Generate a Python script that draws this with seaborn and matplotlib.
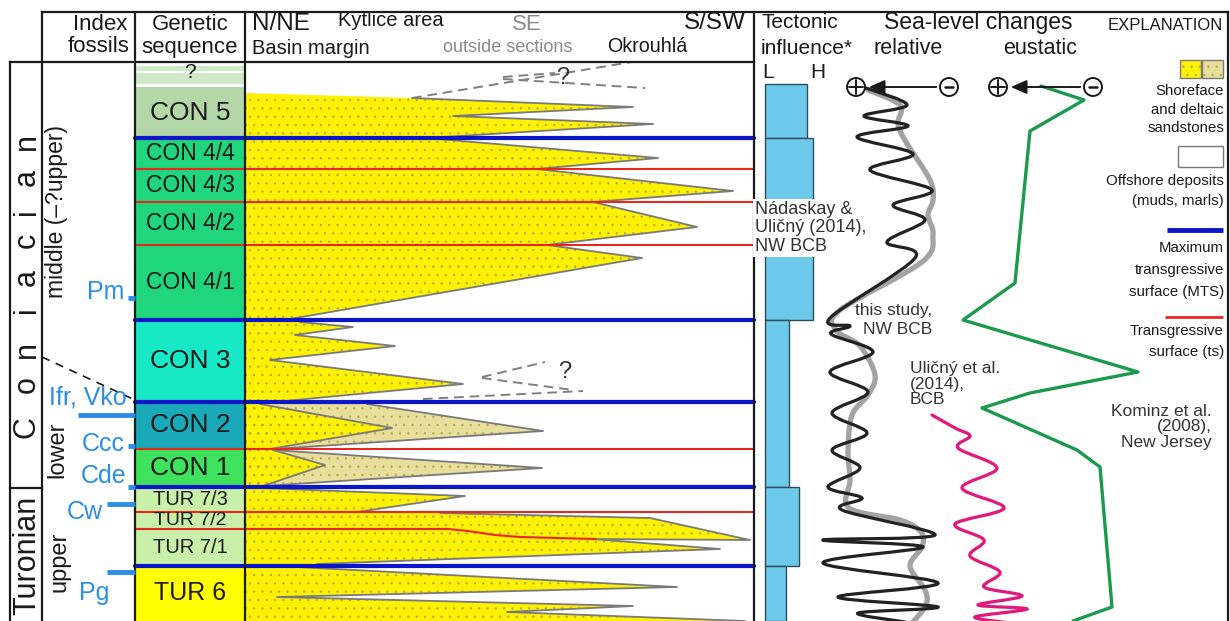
import numpy as np
import pandas as pd
import matplotlib
matplotlib.use("Agg")
import matplotlib.pyplot as plt
from matplotlib.path import Path
from matplotlib.patches import PathPatch, Polygon, Rectangle, Circle
import seaborn as sns

# ------------------------------------------------------------------
# Stratigraphic framework (depth axis runs downwards)
# ------------------------------------------------------------------
seq_names = ["?", "CON 5", "CON 4/4", "CON 4/3", "CON 4/2", "CON 4/1", "CON 3",
             "CON 2", "CON 1", "TUR 7/3", "TUR 7/2", "TUR 7/1", "TUR 6"]
seq_tops = [62, 87, 138, 169, 202, 245, 320, 402, 449, 487, 512, 529, 566]
seq_bases = [87, 138, 169, 202, 245, 320, 402, 449, 487, 512, 529, 566, 621]
seq_colors = ["#cfe8c8", "#b4d7a8", "#1fd67c", "#1fd67c", "#1fd67c", "#1fd67c",
              "#17e8c6", "#1aa9b9", "#3fe25c", "#c9f0a8", "#c9f0a8", "#c9f0a8",
              "#ffff00"]
seq_label_pt = [15, 19, 16.5, 16.5, 16.5, 16.5, 19, 19, 19, 14.5, 14, 14.5, 18]

mts_depths = [138, 320, 402, 487, 566]          # maximum transgressive surfaces
ts_depths = [169, 202, 245, 449, 512]           # transgressive surfaces
ts_tur72_x = [135, 448, 468, 495, 520, 595]     # TUR 7/2 transgressive surface
ts_tur72_y = [529, 529, 531, 535, 537, 539]

# Shoreface / deltaic sandstone bodies (distance basinward, depth)
sand_con4_5_x = [245, 412, 633, 453, 653, 427, 658, 537, 733, 593, 697, 547, 642, 290, 245]
sand_con4_5_y = [93, 98, 107, 116, 124, 138, 158, 169, 191, 202, 227, 245, 258, 319, 320]
sand_con3_x = [245, 300, 353, 295, 395, 270, 463, 285, 245]
sand_con3_y = [322, 322, 327, 335, 346, 360, 384, 401, 401]
sand_con2_x = [245, 260, 392, 270, 245]
sand_con2_y = [404, 404, 428, 449, 449]
delta_con2_x = [245, 367, 543, 275, 245]
delta_con2_y = [404, 404, 431, 449, 449]
sand_con1_x = [245, 273, 325, 263, 245]
sand_con1_y = [450, 450, 465, 486, 486]
delta_con1_x = [245, 273, 542, 263, 245]
delta_con1_y = [450, 450, 468, 486, 486]
sand_tur73_x = [245, 262, 465, 357, 245]
sand_tur73_y = [488, 488, 496, 512, 512]
sand_tur71_x = [245, 440, 650, 750, 593, 720, 317, 245]
sand_tur71_y = [513, 513, 518, 540, 539, 549, 564, 565]
sand_tur6_x = [245, 297, 677, 277, 633, 507, 745, 245]
sand_tur6_y = [567, 567, 587, 597, 606, 612, 621, 621]

# Uncertain correlations (dashed)
dash_con5 = [([412, 632], [98, 62]), ([503, 555], [77, 73]), ([503, 645], [79, 88])]
dash_con3 = [([423, 583], [399, 391]), ([482, 545], [377, 362]), ([482, 573], [378, 390])]

# Index fossils: label, label position, marker extent
fossil_labels = ["Pm", "Ifr, Vko", "Ccc", "Cde", "Cw", "Pg"]
fossil_label_x = [124, 127, 125, 126, 103, 109]
fossil_label_y = [292, 397, 444, 476, 512, 593]
fossil_bar_x0 = [128, 78, 128, 128, 107, 107]
fossil_bar_y = [298, 415, 446, 487, 504, 572]

# Tectonic influence (L .. H)
tect_top = [84, 138, 320, 487, 566]
tect_base = [138, 320, 487, 566, 621]
tect_level = [42, 48, 24, 34, 21]

# Relative sea level, this study (turning points)
rsl_x = [866, 907, 864, 908, 857, 913, 870, 932, 893, 925, 887, 915, 830, 850, 831,
         873, 830, 868, 832, 867, 832, 860, 828, 862, 842, 935, 823, 923, 823, 938,
         838, 938, 858, 905]
rsl_y = [88, 105, 116, 126, 137, 154, 170, 190, 205, 220, 242, 258, 318, 326, 334,
         352, 372, 392, 413, 433, 450, 468, 487, 498, 510, 535, 540, 547, 563, 583,
         597, 607, 613, 622]
# Relative sea level, Nadaskay & Ulicny (2014)
nu_x = [868, 900, 898, 906, 930, 933, 928, 933, 922, 840, 836, 860, 875, 868, 852,
        848, 850, 849, 900, 921, 922, 910, 925, 926, 913]
nu_y = [90, 105, 124, 142, 180, 200, 215, 235, 262, 310, 330, 346, 375, 395, 415,
        450, 480, 508, 520, 532, 547, 566, 590, 605, 622]
# Relative sea level, Ulicny et al. (2014)
ul_x = [932, 955, 970, 958, 997, 962, 1004, 955, 984, 970, 1000, 984, 1022, 978, 1027, 975, 1010]
ul_y = [415, 428, 436, 448, 468, 488, 508, 524, 540, 556, 572, 587, 596, 605, 609, 617, 623]
# Eustatic curve, Kominz et al. (2008)
eus_x = [1041, 1084, 1030, 1015, 963, 1138, 1030, 982, 1077, 1100, 1112, 1073]
eus_y = [86, 100, 131, 283, 320, 372, 393, 408, 450, 467, 607, 621]

# ------------------------------------------------------------------
sns.set_theme(style="white")
plt.rcParams["font.family"] = ["Liberation Sans", "DejaVu Sans"]
plt.rcParams["hatch.linewidth"] = 0.45

fig = plt.figure(figsize=(12.3, 6.21), dpi=100)
ax = fig.add_axes([0, 0, 1, 1])
ax.set_xlim(0, 1230)
ax.set_ylim(621, 0)
ax.axis("off")

DARK = "#1a1a1a"
YELLOW = "#fff200"
KHAKI = "#e8df9c"
OUTLINE = "#7a7a7a"
BLUE = "#0a16c8"
RED = "#e8281e"
FOSSIL = "#2a8ee8"
DOTS = "#b3a550"


def sand_body(xs, ys, color):
    pts = np.column_stack([xs, ys])
    ax.add_patch(Polygon(pts, closed=True, facecolor=color, edgecolor="none", zorder=2))
    ax.add_patch(Polygon(pts, closed=True, facecolor="none", edgecolor=DOTS,
                         hatch="..", linewidth=0, zorder=2.1))
    ax.plot(xs[1:-1], ys[1:-1], color=OUTLINE, lw=1.3, zorder=2.2)


def smooth_path(xs, ys):
    P = np.column_stack([xs, ys]).astype(float)
    n = len(P)
    verts, codes = [P[0]], [Path.MOVETO]
    for i in range(n - 1):
        p0 = P[i - 1] if i > 0 else P[i]
        p1, p2 = P[i], P[i + 1]
        p3 = P[i + 2] if i + 2 < n else P[i + 1]
        verts += [p1 + (p2 - p0) / 6.0, p2 - (p3 - p1) / 6.0, p2]
        codes += [Path.CURVE4] * 3
    return Path(verts, codes)


# Genetic sequence column
for name, top, base, col, pt in zip(seq_names, seq_tops, seq_bases, seq_colors, seq_label_pt):
    ax.add_patch(Rectangle((135, top), 110, base - top, facecolor=col, edgecolor="none", zorder=1))
    ty = (top + base) / 2 + (0 if name != "?" else -2)
    ax.text(190, ty, name, ha="center", va="center", fontsize=pt, color=DARK, zorder=5)
for y0, y1 in [(62, 66), (71, 73), (84, 87)]:
    ax.add_patch(Rectangle((135, y0), 110, y1 - y0, facecolor="white", edgecolor="none", zorder=1.5))

# Sandstone bodies
sand_body(sand_con4_5_x, sand_con4_5_y, YELLOW)
sand_body(sand_con3_x, sand_con3_y, YELLOW)
sand_body(delta_con2_x, delta_con2_y, KHAKI)
sand_body(sand_con2_x, sand_con2_y, YELLOW)
sand_body(delta_con1_x, delta_con1_y, KHAKI)
sand_body(sand_con1_x, sand_con1_y, YELLOW)
sand_body(sand_tur73_x, sand_tur73_y, YELLOW)
sand_body(sand_tur71_x, sand_tur71_y, YELLOW)
sand_body(sand_tur6_x, sand_tur6_y, YELLOW)

for xs, ys in dash_con5 + dash_con3:
    ax.plot(xs, ys, color="#808080", lw=1.4, ls=(0, (5, 3)), zorder=2.5)
ax.text(563, 78, "?", ha="center", va="center", fontsize=17, color="#333333", zorder=3)
ax.text(565, 372, "?", ha="center", va="center", fontsize=17, color="#333333", zorder=3)

# Surfaces
for d in ts_depths:
    ax.plot([135, 754], [d, d], color=RED, lw=1.5, zorder=3)
ax.plot(ts_tur72_x, ts_tur72_y, color=RED, lw=1.5, zorder=3)
for d in mts_depths:
    ax.plot([135, 754], [d, d], color=BLUE, lw=3.0, zorder=3.1)

# Frame
frame = dict(color=DARK, lw=1.6, zorder=6, solid_capstyle="projecting")
ax.plot([42, 1228], [12, 12], **frame)
ax.plot([10, 754], [62, 62], **frame)
ax.plot([10, 42], [488, 488], **frame)
for x, y0 in [(10, 62), (42, 12), (135, 12), (245, 12), (754, 12), (1228, 12)]:
    ax.plot([x, x], [y0, 621], **frame)
ax.plot([42, 135], [357, 400], color=DARK, lw=1.2, ls=(0, (5, 4)), zorder=4)

# Header texts
hdr = dict(fontsize=16, color=DARK, va="center", zorder=7)
ax.text(100, 24, "Index", ha="center", **hdr)
ax.text(99, 47, "fossils", ha="center", **hdr)
ax.text(190, 24, "Genetic", ha="center", **hdr)
ax.text(190, 48, "sequence", ha="center", **hdr)
ax.text(252, 24, "N/NE", ha="left", fontsize=17.5, color=DARK, va="center")
ax.text(338, 21, "Kytlice area", ha="left", fontsize=14.5, color=DARK, va="center")
ax.text(252, 48, "Basin margin", ha="left", fontsize=14.5, color=DARK, va="center")
ax.text(527, 24, "SE", ha="center", fontsize=16, color="#8a8a8a", va="center")
ax.text(508, 48, "outside sections", ha="center", fontsize=13, color="#8a8a8a", va="center")
ax.text(647, 47, "Okrouhlá", ha="center", fontsize=14.2, color=DARK, va="center")
ax.text(746, 23, "S/SW", ha="right", fontsize=17.5, color=DARK, va="center")

# Stage and substage names
for ch, y in zip("Coniacian", [427, 385, 350, 310, 277, 240, 212, 178, 142]):
    ax.text(27, y, ch, rotation=90, ha="center", va="center", fontsize=22, color=DARK)
ax.text(27, 555, "Turonian", rotation=90, ha="center", va="center", fontsize=22, color=DARK)
ax.text(57, 212, "middle (–?upper)", rotation=90, ha="center", va="center", fontsize=16.5, color=DARK)
ax.text(57, 450, "lower", rotation=90, ha="center", va="center", fontsize=17, color=DARK)
ax.text(59, 562, "upper", rotation=90, ha="center", va="center", fontsize=17, color=DARK)

# Index fossils
for lab, lx, ly, bx, by in zip(fossil_labels, fossil_label_x, fossil_label_y, fossil_bar_x0, fossil_bar_y):
    ax.text(lx, ly, lab, ha="right", va="center", fontsize=18, color=FOSSIL, zorder=7)
    ax.plot([bx, 135], [by, by], color=FOSSIL, lw=3.5, solid_capstyle="butt", zorder=7)

# Tectonic influence
ax.text(762, 22, "Tectonic", ha="left", va="center", fontsize=15, color=DARK)
ax.text(761, 48, "influence*", ha="left", va="center", fontsize=15, color=DARK)
ax.text(768, 72, "L", ha="center", va="center", fontsize=15, color=DARK)
ax.text(818, 72, "H", ha="center", va="center", fontsize=15, color=DARK)
tect_mid = [(a + b) / 2 for a, b in zip(tect_top, tect_base)]
tect_h = [b - a for a, b in zip(tect_top, tect_base)]
ax.barh(tect_mid, tect_level, height=tect_h, left=765, color="#6cc9ea",
        edgecolor="#2e4d5a", linewidth=1.0, zorder=2)
ax.text(755, 228, "Nádaskay &\nUličný (2014),\nNW BCB", ha="left", va="center",
        fontsize=13, color="#333333", linespacing=1.1, zorder=8,
        bbox=dict(facecolor="white", edgecolor="none", pad=1.5))

# Sea-level headers and polarity arrows
ax.text(978, 22, "Sea-level changes", ha="center", va="center", fontsize=16.5, color=DARK)
ax.text(908, 48, "relative", ha="center", va="center", fontsize=15.5, color=DARK)
ax.text(1040, 48, "eustatic", ha="center", va="center", fontsize=15.5, color=DARK)
for cx, sign in [(856, "+"), (949, "-"), (998, "+"), (1093, "-")]:
    ax.add_patch(Circle((cx, 87), 9, facecolor="white", edgecolor=DARK, lw=1.4, zorder=9))
    if sign == "+":
        ax.plot([cx - 7, cx + 7], [87, 87], color=DARK, lw=1.4, zorder=10)
        ax.plot([cx, cx], [80, 94], color=DARK, lw=1.4, zorder=10)
    else:
        ax.plot([cx - 4, cx + 4], [87, 87], color=DARK, lw=1.8, zorder=10)
for x0, x1 in [(939, 866), (1083, 1008)]:
    ax.annotate("", xy=(x1, 87), xytext=(x0, 87),
                arrowprops=dict(arrowstyle="-|>,head_length=0.8,head_width=0.35",
                                color=DARK, lw=1.4), zorder=9)

# Sea-level curves
ax.add_patch(PathPatch(smooth_path(nu_x, nu_y), facecolor="none", edgecolor="#a3a3a3",
                       lw=3.8, capstyle="round", zorder=3))
ax.add_patch(PathPatch(smooth_path(rsl_x, rsl_y), facecolor="none", edgecolor="#222222",
                       lw=2.3, capstyle="round", zorder=4))
ax.add_patch(PathPatch(smooth_path(ul_x, ul_y), facecolor="none", edgecolor="#e2197c",
                       lw=2.3, capstyle="round", zorder=4))
eus = pd.DataFrame({"sea_level": eus_x, "depth": eus_y})
sns.lineplot(data=eus, x="sea_level", y="depth", sort=False, estimator=None,
             color="#1b9a4e", lw=2.4, ax=ax, zorder=4)
ax.set_xlim(0, 1230)
ax.set_ylim(621, 0)
ax.axis("off")

ax.text(932, 310, "this study,", ha="right", va="center", fontsize=12.5, color="#333333", zorder=8)
ax.text(932, 329, "NW BCB", ha="right", va="center", fontsize=12.5, color="#333333", zorder=8)
ax.text(910, 384, "Uličný et al.\n(2014),\nBCB", ha="left", va="center", fontsize=12.5,
        color="#333333", linespacing=1.05, zorder=8)
ax.text(1212, 427, "Kominz et al.\n(2008),\nNew Jersey", ha="right", va="center",
        fontsize=12.5, color="#333333", linespacing=1.05, multialignment="right", zorder=8)

# Explanation
ax.text(1223, 25, "EXPLANATION", ha="right", va="center", fontsize=12, color=DARK)
for x0, col in [(1180, YELLOW), (1202, KHAKI)]:
    ax.add_patch(Rectangle((x0, 60), 21, 18, facecolor=col, edgecolor="none", zorder=2))
    ax.add_patch(Rectangle((x0, 60), 21, 18, facecolor="none", edgecolor=DOTS,
                           hatch="..", linewidth=0, zorder=2.1))
    ax.add_patch(Rectangle((x0, 60), 21, 18, facecolor="none", edgecolor=OUTLINE, lw=1.0, zorder=2.2))
leg = dict(ha="right", va="center", fontsize=10.8, color=DARK)
for txt, y in [("Shoreface", 91), ("and deltaic", 110), ("sandstones", 128),
               ("Offshore deposits", 181), ("(muds, marls)", 201),
               ("Maximum", 248), ("transgressive", 270), ("surface (MTS)", 292),
               ("Transgressive", 331), ("surface (ts)", 352)]:
    ax.text(1224, y, txt, **leg)
ax.add_patch(Rectangle((1178, 146), 45, 21, facecolor="white", edgecolor=OUTLINE, lw=1.0))
ax.plot([1167, 1223], [230, 230], color=BLUE, lw=3.5, solid_capstyle="butt")
ax.plot([1165, 1223], [317, 317], color=RED, lw=2.0, solid_capstyle="butt")

fig.savefig("out.png", dpi=100)
